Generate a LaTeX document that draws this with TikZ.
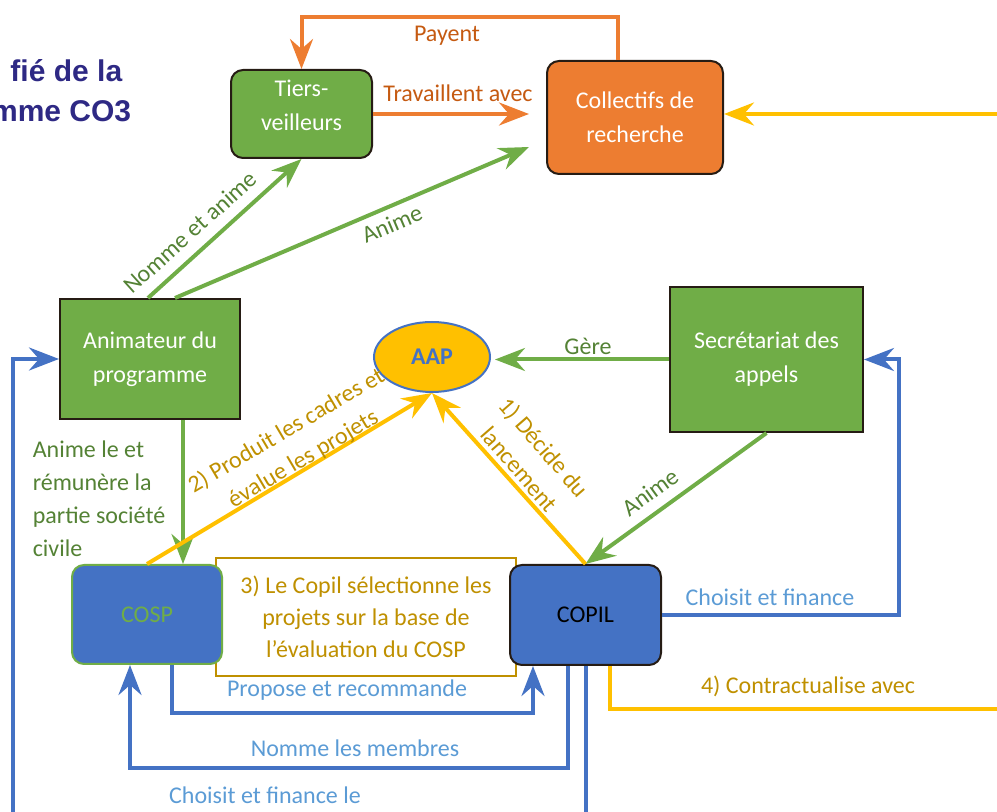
\documentclass[tikz,border=0pt]{standalone}
\usepackage{fontspec}
\setmainfont{Carlito}
\newfontfamily\titlefont{Liberation Sans}
\usetikzlibrary{arrows.meta,shapes.geometric}
\definecolor{boxgreen}{RGB}{112,173,71}
\definecolor{greentext}{RGB}{84,130,53}
\definecolor{boxorange}{RGB}{237,125,49}
\definecolor{orangetext}{RGB}{197,90,17}
\definecolor{aapyellow}{RGB}{255,192,0}
\definecolor{goldtext}{RGB}{191,144,0}
\definecolor{boxblue}{RGB}{68,114,196}
\definecolor{bluetext}{RGB}{91,155,213}
\definecolor{titleblue}{RGB}{46,41,132}
\definecolor{boxline}{RGB}{38,28,20}
\begin{document}
\begin{tikzpicture}[x=0.5pt,y=-0.5pt,
  thick,box node/.style={draw=boxline,line width=1pt,text=white,align=center,font=\fontsize{12}{17}\selectfont},
  round node/.style={box node,rounded corners=6pt},
  lbl/.style={font=\fontsize{12}{16.5}\selectfont,align=center,inner sep=0pt},
  tip/.style={-{Stealth[length=15pt,width=11.5pt,inset=5pt]}},
  gline/.style={draw=boxgreen,line width=2pt},
  oline/.style={draw=boxorange,line width=2pt},
  yline/.style={draw=aapyellow,line width=2pt},
  bline/.style={draw=boxblue,line width=2pt}]

  \useasboundingbox (0,0) rectangle (997,812);
  \clip (0,0) rectangle (997,812);

  \node[anchor=base east,inner sep=0pt,text=titleblue,font=\titlefont\fontsize{15}{18}\selectfont\bfseries] (titre1) at (123,82) {fié de la};
  \node[anchor=base east,inner sep=0pt,text=titleblue,font=\titlefont\fontsize{15}{18}\selectfont\bfseries] (titre2) at (132,122) {mme CO3};

  \node[draw=goldtext,line width=0.75pt,fill=white,text=goldtext,align=center,minimum width=150pt,minimum height=59pt,font=\fontsize{12}{16}\selectfont] (selection) at (366,617) {3) Le Copil sélectionne les\\projets sur la base de\\l’évaluation du COSP};

  \node[round node,fill=boxgreen,minimum width=70.5pt,minimum height=44pt] (tiers) at (301.5,114) {Tiers-\\veilleurs\\[-8pt]\mbox{}};
  \node[round node,fill=boxorange,minimum width=88pt,minimum height=56.5pt] (collectifs) at (635,117.5) {Collectifs de\\recherche};
  \node[box node,fill=boxgreen,minimum width=90pt,minimum height=60pt] (animateur) at (150,359) {Animateur du\\programme};
  \node[box node,fill=boxgreen,minimum width=96.5pt,minimum height=72.5pt] (secretariat) at (766.5,359.5) {Secrétariat des\\appels};
  \node[ellipse,draw=boxblue,line width=1pt,fill=aapyellow,text=boxblue,minimum width=58pt,minimum height=35pt,font=\fontsize{12}{17}\selectfont\bfseries] (aap) at (432,357) {AAP};
  \node[round node,fill=boxblue,draw=boxgreen,text=boxgreen,minimum width=75pt,minimum height=49.5pt] (cosp) at (147,614.5) {COSP};
  \node[round node,fill=boxblue,text=black,minimum width=75.5pt,minimum height=50pt] (copil) at (585.5,615) {COPIL};

  \coordinate (payentcoin) at (618,17);
  \coordinate (proposecoin) at (533,713);
  \coordinate (nommecoin) at (130,768);
  \coordinate (financebas) at (585.5,812);
  \coordinate (financegauche) at (13,812);
  \coordinate (contratbord) at (997,709);
  \coordinate (contrathaut) at (997,114);

  \draw[oline,tip] ([xshift=-8.5pt]collectifs.north) -- (payentcoin) -| (tiers.north);
  \draw[oline,tip] (tiers.east) -- ([xshift=-8.5pt]collectifs.west |- tiers.east);
  \draw[gline,tip] ([xshift=-1pt]animateur.north) -- (tiers.south);
  \draw[gline,tip] ([xshift=12.5pt]animateur.north) -- ([xshift=-8.5pt,yshift=14pt]collectifs.south west);
  \draw[gline,tip] (secretariat.west) -- ([xshift=2pt]aap.east |- secretariat.west);
  \draw[gline,tip] (secretariat.south) -- (copil.north);
  \draw[gline,tip] ([xshift=16.5pt]animateur.south) -- ([xshift=16.5pt]animateur.south |- cosp.north);
  \draw[yline,tip] (cosp.north) -- (aap.south);
  \draw[yline,tip] (copil.north) -- (aap.south);
  \draw[bline,tip] ([xshift=12.5pt]cosp.south) |- (proposecoin) -- ([xshift=-26.25pt]copil.south);
  \draw[bline,tip] ([xshift=-8.75pt]copil.south) |- (nommecoin) -- ([xshift=-8.5pt]cosp.south);
  \draw[bline] (copil.south) -- (financebas);
  \draw[bline,tip] (financegauche) |- (animateur.west);
  \draw[bline,tip] (copil.east) -| ([xshift=17.5pt]secretariat.east) -- (secretariat.east);
  \draw[yline] ([xshift=12.25pt]copil.south) |- (contratbord);
  \draw[yline,tip] (contrathaut) -- (contrathaut -| collectifs.east);

  \node[lbl,text=orangetext] (payent) at (447,36) {Payent};
  \node[lbl,text=orangetext] (travaillent) at (458,93) {Travaillent avec};
  \node[lbl,text=greentext,rotate=42] (nomme) at (190,232) {Nomme et anime};
  \node[lbl,text=greentext,rotate=23] (animecollectifs) at (392,224) {Anime};
  \node[lbl,text=greentext] (gere) at (588,346) {Gère};
  \node[lbl,text=greentext,rotate=36] (animecopil) at (650,492) {Anime};
  \node[lbl,text=greentext,align=left,anchor=west] (animecosp) at (32,499) {Anime le et\\rémunère la\\partie société\\civile};
  \node[lbl,text=goldtext,rotate=30.5] (produit) at (295,445) {2) Produit les cadres et\\évalue les projets};
  \node[lbl,text=goldtext,rotate=-49] (decide) at (532,458) {1) Décide du\\lancement};
  \node[lbl,text=goldtext] (contrat) at (808,686) {4) Contractualise avec};
  \node[lbl,text=bluetext] (choisit) at (770,597) {Choisit et finance};
  \node[lbl,text=bluetext] (propose) at (347,690) {Propose et recommande};
  \node[lbl,text=bluetext] (membres) at (355,748) {Nomme les membres};
  \node[lbl,text=bluetext] (financele) at (265,795) {Choisit et finance le};
\end{tikzpicture}
\end{document}
